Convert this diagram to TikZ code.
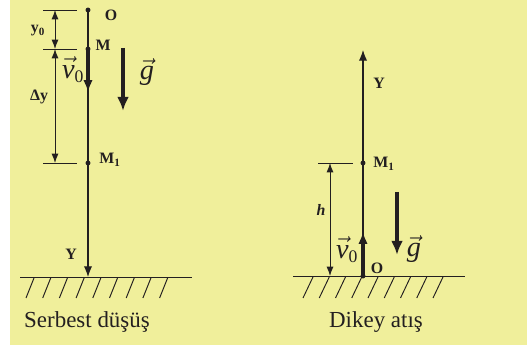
\documentclass[tikz,border=0pt]{standalone}
\usepackage{fontspec}
\setmainfont{Liberation Serif}
\usetikzlibrary{arrows.meta}
\definecolor{bgyellow}{RGB}{240,239,155}
\definecolor{ink}{RGB}{35,31,32}
\newcommand{\vecsym}[1]{$\vec{\mbox{\itshape #1}}$}
\newcommand{\vecsub}[2]{$\vec{\mbox{\itshape #1}}_{\mbox{\fontsize{15}{17}\selectfont #2}}$}

\begin{document}
\begin{tikzpicture}[
  x=0.85pt, y=-0.85pt,
  line width=0.8pt, draw=ink, text=ink,
  axis/.style={line width=0.9pt, -{Latex[length=9pt,width=7pt]}},
  vec/.style={line width=2.6pt, -{Latex[length=10pt,width=8pt]}},
  dim/.style={line width=0.8pt, {Latex[length=8pt,width=6pt]}-{Latex[length=8pt,width=6pt]}},
  dot/.style={circle, fill=ink, inner sep=0pt, minimum size=4.2pt},
  lbl/.style={font=\bfseries\fontsize{13.5}{15}\selectfont, inner sep=0pt},
  vlbl/.style={font=\fontsize{24}{28}\selectfont, inner sep=0pt},
  title/.style={font=\fontsize{19.5}{23}\selectfont, inner sep=0pt},
]
\useasboundingbox (0,0) rectangle (527,355);
\fill[bgyellow] (10,0) rectangle (527,345);

% Serbest dusus
\node[dot] (O1) at (88,10) {};
\node[dot] (M) at (88,49) {};
\node[dot] (M1a) at (88,163) {};
\coordinate (Y1) at (88,277);
\coordinate (v1) at (88,92);
\draw[axis] (O1.center) -- (Y1);
\draw[vec] (M.center) -- (v1);

\coordinate (tOa) at (43,10);  \coordinate (tOb) at (77,10);
\coordinate (tMa) at (43,49);  \coordinate (tMb) at (77,49);
\coordinate (tNa) at (43,163); \coordinate (tNb) at (77,163);
\draw (tOa) -- (tOb);
\draw (tMa) -- (tMb);
\draw (tNa) -- (tNb);
\coordinate (d0) at (55,10);
\coordinate (d1) at (55,49);
\coordinate (d2) at (55,163);
\draw[dim] (d0) -- (d1);
\draw[dim] (d1) -- (d2);

\coordinate (g1a) at (123,48);
\coordinate (g1b) at (123,111);
\draw[vec, -{Latex[length=12pt,width=10pt]}] (g1a) -- (g1b);

\node[lbl] (lO1) at (111,15) {O};
\node[lbl] (lM) at (103,45) {M};
\node[lbl] (lM1a) at (110,160) {M\textsubscript{1}};
\node[lbl] (ly0) at (38,31) {y\textsubscript{0}};
\node[lbl] (ldy) at (39,97) {Δy};
\node[lbl] (lY1) at (71,254) {Y};
\node[vlbl] (lv1) at (73,70) {\vecsub{v}{0}};
\node[vlbl] (lg1) at (147,72) {\vecsym{g}};

\coordinate (gr1a) at (20,277);
\coordinate (gr1b) at (192,277);
\draw (gr1a) -- (gr1b);
\foreach \i in {0,...,8}
  \draw ({26+16.7*\i},298) -- ({34+16.7*\i},278);
\node[title] (cap1) at (87,322) {Serbest düşüş};

% Dikey atis
\node[dot] (O2) at (363,276) {};
\node[dot] (M1b) at (363,163) {};
\coordinate (Y2) at (363,50);
\coordinate (v2) at (363,232);
\draw[axis] (O2.center) -- (Y2);
\draw[vec] (O2.center) -- (v2);

\coordinate (tHa) at (318,163); \coordinate (tHb) at (353,163);
\draw (tHa) -- (tHb);
\coordinate (h0) at (330,163);
\coordinate (h1) at (330,276);
\draw[dim] (h0) -- (h1);

\coordinate (g2a) at (397,192);
\coordinate (g2b) at (397,255);
\draw[vec, -{Latex[length=12pt,width=10pt]}] (g2a) -- (g2b);

\node[lbl] (lO2) at (377,268) {O};
\node[lbl] (lM1b) at (384,164) {M\textsubscript{1}};
\node[lbl] (lY2) at (379,83) {Y};
\node[lbl, font=\bfseries\itshape\fontsize{13.5}{15}\selectfont] (lh) at (321,210) {h};
\node[vlbl] (lv2) at (347,250) {\vecsub{v}{0}};
\node[vlbl] (lg2) at (414,249) {\vecsym{g}};

\coordinate (gr2a) at (293,276);
\coordinate (gr2b) at (465,276);
\draw (gr2a) -- (gr2b);
\foreach \i in {0,...,8}
  \draw ({303+16.25*\i},298) -- ({313+16.25*\i},277);
\node[title] (cap2) at (376,322) {Dikey atış};
\end{tikzpicture}
\end{document}
